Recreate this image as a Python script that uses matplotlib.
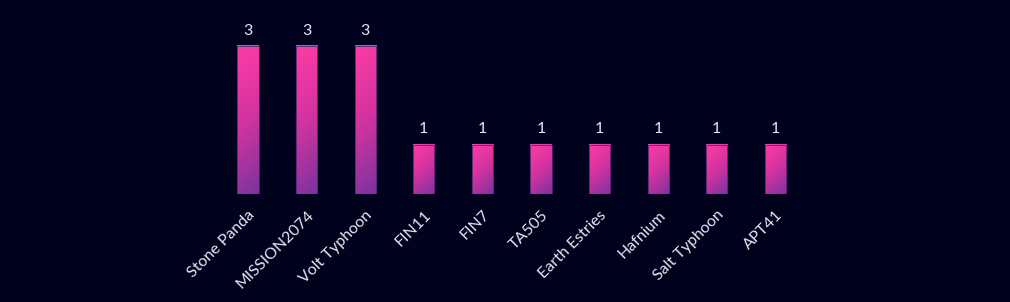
import numpy as np
import matplotlib
matplotlib.use("Agg")
import matplotlib.pyplot as plt
from matplotlib.patches import Rectangle
from matplotlib.colors import LinearSegmentedColormap

categories = ["Stone Panda", "MISSION2074", "Volt Typhoon", "FIN11", "FIN7",
              "TA505", "Earth Estries", "Hafnium", "Salt Typhoon", "APT41"]
values = [3, 3, 3, 1, 1, 1, 1, 1, 1, 1]

BG = "#01021e"
TXT = "#e6e6ee"
cmap = LinearSegmentedColormap.from_list("g", ["#ff3ca6", "#d2339f", "#7a349f"])

plt.rcParams['font.family'] = ['Lato', 'DejaVu Sans']
fig = plt.figure(figsize=(10.10, 3.02), dpi=100, facecolor=BG)
ax = fig.add_axes([0.2165, 0.3576, 0.5802, 0.5718])
ax.set_facecolor(BG)
ax.set_xlim(-0.5, len(categories) - 0.5)
ax.set_ylim(0, 3.5)

bw = 0.36
px_per_unit = 49.3
w_px = 21
x = np.arange(len(categories))
for xi, v in zip(x, values):
    h_px = v * px_per_unit
    ny, nx = 120, 24
    yy, xx = np.mgrid[0:ny, 0:nx]
    yf = yy / (ny - 1)   # 0 at top
    xf = xx / (nx - 1)
    t = (yf * h_px + xf * w_px * 0.9) / (h_px + w_px * 0.9)
    ax.imshow(t, cmap=cmap, vmin=0, vmax=1, aspect='auto',
              extent=[xi - bw / 2, xi + bw / 2, 0, v], origin='upper',
              interpolation='bilinear', zorder=2)
    ax.add_patch(Rectangle((xi - bw / 2, 0), bw, v, facecolor='none',
                           edgecolor='#5a2176', lw=0.6, zorder=3))
    ax.annotate(str(v), (xi, v), xytext=(0, 6), textcoords='offset points',
                ha='center', va='bottom', color=TXT, fontsize=11.5)

ax.set_xticks(x)
ax.set_xticklabels(categories, rotation=45, ha='right', rotation_mode='anchor',
                   color=TXT, fontsize=11.5)
ax.tick_params(axis='x', length=0, pad=10)
ax.set_yticks([])
for s in ax.spines.values():
    s.set_visible(False)
ax.set_xlim(-0.5, len(categories) - 0.5)
ax.set_ylim(0, 3.5)

fig.savefig("out.png", dpi=100, facecolor=BG)
